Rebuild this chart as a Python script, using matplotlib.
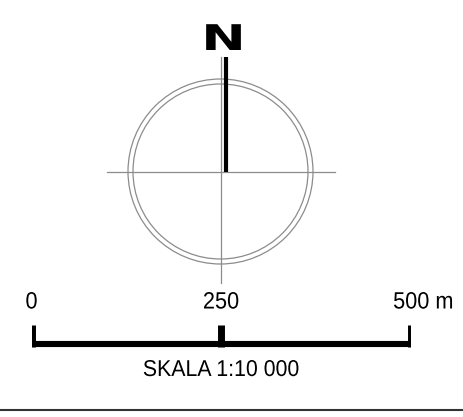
import matplotlib
matplotlib.use("Agg")
import matplotlib.pyplot as plt
from matplotlib.patches import Circle
from matplotlib.patheffects import AbstractPathEffect
from matplotlib.transforms import offset_copy, Affine2D

# scale bar data (meters)
scale_ticks = [0, 250, 500]
tick_labels = ["0", "250", "500 m"]
scale_title = "SKALA 1:10 000"
north_label = "N"

FONT = ["Liberation Sans", "DejaVu Sans"]


class Stretch(AbstractPathEffect):
    """scale text glyphs around their own centre (no narrow/wide fonts here)"""
    def __init__(self, sx=1.0, sy=1.0):
        super().__init__()
        self.sx, self.sy = sx, sy

    def draw_path(self, renderer, gc, tpath, affine, rgbFace=None):
        ext = tpath.get_extents(affine)
        cx, cy = ext.x0 + ext.width / 2, ext.y0 + ext.height / 2
        a = affine + Affine2D().translate(-cx, -cy).scale(self.sx, self.sy).translate(cx, cy)
        renderer.draw_path(gc, tpath, a, rgbFace)


W, H = 463, 417
fig = plt.figure(figsize=(W / 100, H / 100), dpi=100)

# main axes in pixel units for the north arrow
ax = fig.add_axes([0, 0, 1, 1])
ax.set_xlim(0, W)
ax.set_ylim(H, 0)
ax.axis("off")

cx, cy = 220.5, 171.5
gray = "#8c8c8c"
ax.add_patch(Circle((cx, cy), 92.5, fill=False, ec=gray, lw=0.9))
ax.add_patch(Circle((cx, cy), 87.5, fill=False, ec=gray, lw=0.9))
ax.plot([107, 335], [cy, cy], color=gray, lw=0.9)
ax.plot([221, 221], [57, 283], color=gray, lw=0.9)
# thick north needle
ax.plot([225.5, 225.5], [57, cy], color="black", lw=3.0, solid_capstyle="butt")
ax.text(223.5, 40, north_label, ha="center", va="center", fontsize=25.5,
        fontweight="bold", family="DejaVu Sans",
        path_effects=[Stretch(1.5, 1.0)])

# bottom rule
ax.plot([0, W], [409.5, 409.5], color="#333333", lw=1.5)

# scale bar axes in meters
sax = fig.add_axes([31.5 / W, 0, 379 / W, 1])
sax.set_xlim(0, 500)
sax.set_ylim(H, 0)
sax.axis("off")

sax.plot([scale_ticks[0], scale_ticks[-1]], [343.5, 343.5], color="black",
         lw=4.4, solid_capstyle="butt")
for t in scale_ticks:
    sax.plot([t, t], [325, 346.7], color="black", lw=5, solid_capstyle="butt")

narrow = [Stretch(0.92, 1.0)]
for t, lab in zip(scale_ticks[:-1], tick_labels[:-1]):
    sax.text(t, 302.5, lab, ha="center", va="center", fontsize=17,
             family=FONT, path_effects=narrow)
# last label: number centred on tick, unit trailing
trans = offset_copy(sax.transData, fig=fig, x=-20, y=0, units="dots")
sax.text(scale_ticks[-1], 302.5, tick_labels[-1], ha="left", va="center",
         fontsize=17, family=FONT, transform=trans, path_effects=narrow)

sax.text(250, 369.5, scale_title, ha="center", va="center", fontsize=16.5,
         family=FONT, path_effects=[Stretch(0.93, 1.0)])

fig.savefig("out.png", dpi=100)
